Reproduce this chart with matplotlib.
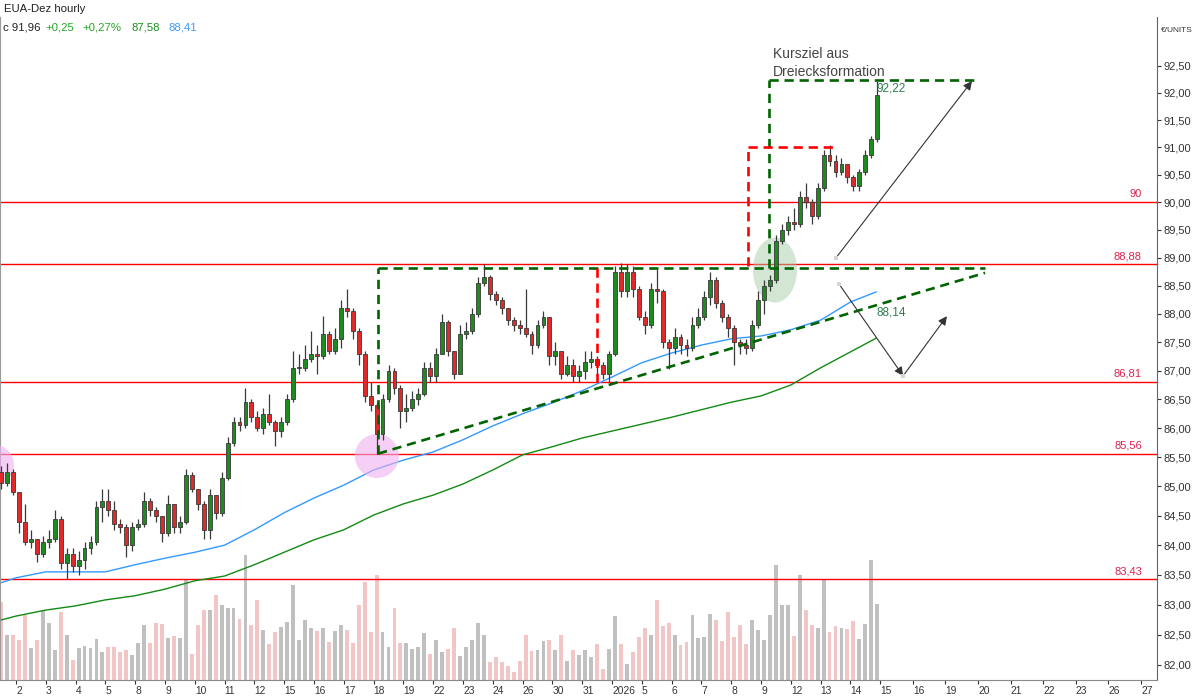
import matplotlib
matplotlib.use('Agg')
import matplotlib.pyplot as plt
import numpy as np
from matplotlib.patches import Ellipse
from matplotlib.ticker import FixedLocator, NullLocator

plt.rcParams['font.family'] = ['Liberation Sans', 'DejaVu Sans']

# ---------------- data ----------------
title = "EUA-Dez hourly"
first_open = 85.25
close = [
    85.05, 85.25, 84.9,
    84.4, 84.05, 84.1, 83.85, 84.05,
    84.1, 84.45, 83.7, 83.85, 83.65,
    83.75, 83.95, 84.05, 84.65, 84.75,
    84.6, 84.35, 84.3, 84.0, 84.3,
    84.35, 84.75, 84.6, 84.5, 84.2,
    84.7, 84.3, 84.4, 85.2, 84.95,
    84.7, 84.25, 84.85, 84.55, 85.15,
    85.75, 86.1, 86.05, 86.45, 86.2,
    86.0, 86.25, 86.1, 85.95, 86.1,
    86.5, 87.05, 87.05, 87.2, 87.3,
    87.25, 87.65, 87.35, 87.55, 88.1,
    88.05, 87.7, 87.3, 86.55, 86.4,
    85.9, 86.5, 87.0, 86.7, 86.3,
    86.35, 86.5, 86.6, 87.05, 86.9,
    87.3, 87.85, 87.35, 86.95, 87.65,
    87.7, 88.0, 88.55, 88.65, 88.35,
    88.25, 88.1, 87.9, 87.8, 87.75,
    87.65, 87.45, 87.8, 87.95, 87.25,
    87.35, 86.95, 87.1, 86.9, 87.0,
    87.15, 87.2, 87.1, 86.95, 87.3,
    88.75, 88.4, 88.75, 88.45, 87.95,
    87.8, 88.45, 88.4, 87.5, 87.4,
    87.6, 87.45, 87.4, 87.8, 87.95,
    88.3, 88.6, 88.2, 87.95, 87.75,
    87.5, 87.45, 87.4, 87.8, 88.25,
    88.5, 88.6, 89.3, 89.5, 89.65,
    89.6, 90.1, 90.0, 89.75, 90.25,
    90.85, 90.75, 90.55, 90.7, 90.45,
    90.3, 90.55, 90.85, 91.15, 91.96,
]
high = [
    85.35, 85.4, 85.3,
    84.9, 84.7, 84.25, 84.1, 84.15,
    84.25, 84.6, 84.5, 83.95, 83.95,
    83.9, 84.05, 84.15, 84.75, 84.95,
    84.95, 84.75, 84.45, 84.35, 84.4,
    84.45, 84.9, 84.8, 84.65, 84.5,
    84.85, 84.7, 84.5, 85.3, 85.25,
    84.95, 84.75, 84.95, 84.85, 85.25,
    85.85, 86.2, 86.2, 86.7, 86.5,
    86.3, 86.35, 86.6, 86.15, 86.2,
    86.6, 87.35, 87.3, 87.45, 87.7,
    87.45, 87.96, 87.7, 87.75, 88.25,
    88.45, 88.1, 87.75, 87.35, 86.8,
    86.45, 86.6, 87.1, 87.05, 86.75,
    86.6, 86.65, 86.7, 87.15, 87.15,
    87.4, 88.0, 87.9, 87.35, 87.8,
    87.85, 88.1, 88.65, 88.88, 88.7,
    88.4, 88.3, 88.1, 87.95, 87.9,
    88.45, 87.7, 87.9, 88.05, 87.95,
    87.5, 87.35, 87.25, 87.2, 87.1,
    87.35, 87.35, 87.25, 87.15, 87.35,
    88.85, 88.9, 88.88, 88.85, 88.5,
    88.05, 88.55, 88.8, 88.45, 87.55,
    87.75, 87.65, 87.55, 87.95, 88.1,
    88.4, 88.75, 88.65, 88.25, 88.0,
    87.8, 87.55, 87.55, 87.9, 88.4,
    88.6, 88.7, 89.4, 89.6, 89.75,
    89.9, 90.2, 90.35, 90.05, 90.35,
    90.95, 91.05, 90.85, 90.8, 90.7,
    90.5, 90.6, 90.95, 91.2, 92.22,
]
low = [
    84.95, 85.0, 84.85,
    84.2, 84.0, 83.95, 83.72, 83.8,
    83.95, 84.05, 83.6, 83.43, 83.55,
    83.5, 83.6, 83.85, 84.0, 84.4,
    84.5, 84.25, 84.2, 83.8, 83.9,
    84.25, 84.3, 84.5, 84.4, 84.05,
    84.15, 84.2, 84.2, 84.35, 84.9,
    84.6, 84.1, 84.1, 84.45, 84.5,
    85.1, 85.7, 85.95, 86.0, 86.1,
    85.95, 85.9, 86.05, 85.7, 85.85,
    86.05, 86.45, 86.95, 87.0, 87.15,
    86.95, 87.2, 87.3, 87.3, 87.4,
    87.95, 87.55, 87.1, 86.45, 86.3,
    85.56, 85.8, 86.45, 86.6, 86.0,
    86.1, 86.3, 86.4, 86.55, 86.8,
    86.8, 87.3, 87.25, 86.85, 86.95,
    87.55, 87.65, 87.95, 88.5, 88.25,
    88.15, 88.0, 87.8, 87.7, 87.65,
    87.6, 87.3, 87.4, 87.75, 87.1,
    87.1, 86.85, 86.9, 86.8, 86.8,
    86.85, 87.05, 86.9, 86.85, 86.81,
    87.25, 88.3, 88.3, 88.3, 87.9,
    87.65, 87.75, 88.2, 87.4, 87.03,
    87.3, 87.3, 87.25, 87.35, 87.75,
    87.9, 88.15, 88.1, 87.85, 87.6,
    87.1, 87.3, 87.3, 87.35, 87.75,
    88.0, 88.4, 88.55, 89.25, 89.4,
    89.5, 89.55, 89.9, 89.6, 89.7,
    90.2, 90.65, 90.45, 90.5, 90.35,
    90.2, 90.2, 90.5, 90.8, 91.1,
]
volume = [
    78, 45, 45,
    40, 65, 32, 40, 70,
    57, 30, 68, 45, 20,
    32, 34, 32, 41, 28,
    33, 33, 28, 30, 25,
    37, 55, 37, 57, 56,
    42, 44, 42, 100, 26,
    55, 70, 70, 85, 75,
    72, 72, 61, 125, 55,
    80, 50, 36, 48, 53,
    58, 95, 40, 60, 52,
    49, 52, 38, 49, 55,
    50, 37, 75, 98, 48,
    105, 48, 33, 72, 37,
    37, 31, 33, 47, 26,
    40, 28, 31, 52, 24,
    33, 40, 57, 45, 18,
    23, 18, 14, 8, 19,
    45, 29, 30, 39, 40,
    30, 45, 19, 30, 25,
    30, 23, 36, 11, 31,
    64, 36, 16, 28, 43,
    52, 45, 80, 54, 57,
    45, 35, 38, 65, 42,
    43, 66, 60, 39, 68,
    43, 55, 36, 60, 50,
    40, 65, 115, 75, 75,
    44, 105, 70, 55, 52,
    100, 48, 54, 52, 51,
    59, 41, 56, 120, 76,
]
# moving averages sampled at day starts (plus chart edges)
ma_days = [-0.54] + list(range(29)) + [28.86]
ma_blue = [83.36, 83.45, 83.55, 83.55, 83.55, 83.67, 83.78, 83.88, 84.00, 84.26,
           84.55, 84.80, 85.02, 85.28, 85.45, 85.59, 85.80, 86.04, 86.25, 86.44,
           86.65, 86.89, 87.14, 87.31, 87.45, 87.56, 87.61, 87.72, 87.89, 88.21, 88.39]
ma_green = [82.74, 82.81, 82.91, 82.98, 83.08, 83.15, 83.26, 83.40, 83.48, 83.67,
            83.88, 84.09, 84.26, 84.51, 84.70, 84.85, 85.04, 85.28, 85.54, 85.68,
            85.83, 85.95, 86.07, 86.19, 86.32, 86.45, 86.56, 86.75, 87.05, 87.33, 87.57]

levels = [90.0, 88.88, 86.81, 85.56, 83.43]
level_labels = ["90", "88,88", "86,81", "85,56", "83,43"]

day_labels = ['2', '3', '4', '5', '8', '9', '10', '11', '12', '15', '16', '17', '18', '19',
              '22', '23', '24', '26', '30', '31', '2026', '5', '6', '7', '8', '9', '12', '13', '14']
future_labels = ['15', '16', '19', '20', '21', '22', '23', '26', '27']
price_ticks = [82.0 + 0.5 * i for i in range(22)]

# ---------------- figure ----------------
W, H = 1200, 700
fig = plt.figure(figsize=(12, 7), dpi=100, facecolor='white')
ax = fig.add_axes([0.0, 20 / H, 1157 / W, 663 / H])
ax2 = ax.twinx()
ax.set_zorder(ax2.get_zorder() + 1)
ax.patch.set_visible(False)

x_left, x_right = -0.537, (1157 - 16) / 29.8
ax.set_xlim(x_left, x_right)
ax.set_yscale('log')
ax.set_ylim(81.752, 93.416)

n = len(close)
xs = -0.5 + 0.2 * np.arange(n)
opens = [first_open] + close[:-1]
up = [c >= o for o, c in zip(opens, close)]

# volume
ax2.set_ylim(0, 663)
vcol = ['#c0c0c0' if u else '#f2c6c6' for u in up]
ax2.bar(xs, volume, width=0.13, color=vcol, linewidth=0)
ax2.set_yticks([])
for s in ax2.spines.values():
    s.set_visible(False)

# level lines
for lv, lb in zip(levels, level_labels):
    ax.axhline(lv, color='#ff0000', lw=1.0, zorder=1.5)
    ax.text(0.987, lv * 1.0006, lb, transform=ax.get_yaxis_transform(), ha='right',
            va='bottom', fontsize=8, color='#e0204e', zorder=7)

# moving averages
ax.plot(ma_days, ma_blue, color='#3399ff', lw=1.0, zorder=2)
ax.plot(ma_days, ma_green, color='#138a13', lw=1.0, zorder=2)

# candles
hi = [max(h, o, c) for h, o, c in zip(high, opens, close)]
lo = [min(l, o, c) for l, o, c in zip(low, opens, close)]
ax.vlines(xs, lo, hi, color='#3a3a3a', lw=0.9, zorder=4)
bottoms = [min(o, c) for o, c in zip(opens, close)]
heights = [max(abs(c - o), 0.02) for o, c in zip(opens, close)]
bcol = ['#1f8a1f' if u else '#e02a2a' for u in up]
ax.bar(xs, heights, bottom=bottoms, width=0.13, color=bcol, edgecolor='#3a3a3a',
       linewidth=0.6, zorder=5)

# ---------------- annotations ----------------
dash = (0, (3.5, 2.2))
g_col, r_col = '#006400', '#ff0000'
# triangle
tri_x0, tri_x1 = 12.15, 32.52
ax.plot([tri_x0, tri_x0], [85.56, 88.82], color=g_col, lw=1.9, ls=dash, zorder=6)
ax.plot([tri_x0, tri_x1], [88.82, 88.82], color=g_col, lw=1.9, ls=dash, zorder=6)
ax.plot([tri_x0, tri_x1], [85.56, 88.73], color=g_col, lw=1.9, ls=dash, zorder=6)
# target box
ax.plot([25.27, 25.27], [88.82, 92.24], color=g_col, lw=1.9, ls=dash, zorder=6)
ax.plot([25.27, 32.25], [92.24, 92.24], color=g_col, lw=1.9, ls=dash, zorder=6)
# red measured moves
ax.plot([19.50, 19.50], [88.82, 86.81], color=r_col, lw=1.9, ls=dash, zorder=6)
ax.plot([24.56, 24.56], [88.86, 91.01], color=r_col, lw=1.9, ls=dash, zorder=6)
ax.plot([24.56, 27.42], [91.01, 91.01], color=r_col, lw=1.9, ls=dash, zorder=6)

# arrows
arrows = [((27.52, 89.0), (32.08, 92.22)),
          ((27.62, 88.53), (29.77, 86.91)),
          ((29.77, 86.91), (31.24, 87.96))]
for (sx, sy), (ex, ey) in arrows:
    ax.annotate('', xy=(ex, ey), xytext=(sx, sy),
                arrowprops=dict(arrowstyle='-|>', color='#333333', lw=0.8,
                                mutation_scale=13, shrinkA=0, shrinkB=0), zorder=7)
ax.plot([27.52, 27.62, 29.77], [89.0, 88.53, 86.91], 's', color='#d4d4d4', ms=3.5,
        zorder=8, markeredgewidth=0)

# ellipses in pixel sizes
bbox = ax.get_window_extent()
def px_ellipse(xd, pd, wpx, hpx, fc, alpha):
    disp = ax.transData.transform((xd, pd))
    cx, cy = ax.transAxes.inverted().transform(disp)
    e = Ellipse((cx, cy), wpx / bbox.width, hpx / bbox.height, transform=ax.transAxes,
                facecolor=fc, edgecolor='none', alpha=alpha, zorder=3.5)
    ax.add_patch(e)

px_ellipse(12.11, 85.52, 44, 44, '#f0b0f0', 0.6)
px_ellipse(-0.74, 85.37, 40, 40, '#f0b0f0', 0.6)
px_ellipse(25.47, 88.78, 44, 65, '#a8cca8', 0.5)

ax.text(25.40, 92.85, "Kursziel aus\nDreiecksformation", ha='left', va='top',
        fontsize=10, color='#444444', linespacing=1.3, zorder=8)
ax.text(28.86, 92.09, "92,22", ha='left', va='center', fontsize=8.5, color='#2e7d4f', zorder=8)
ax.text(28.86, 88.02, "88,14", ha='left', va='center', fontsize=8.5, color='#2e7d4f', zorder=8)

# ---------------- axes styling ----------------
ax.yaxis.tick_right()
ax.yaxis.set_major_locator(FixedLocator(price_ticks))
ax.yaxis.set_minor_locator(NullLocator())
ax.set_yticklabels([f"{t:.2f}".replace('.', ',') for t in price_ticks])
ax.tick_params(axis='y', which='both', direction='out', length=3, pad=2,
               labelsize=8, colors='#333333')
ax.tick_params(axis='y', which='minor', length=0)

xt = list(range(29)) + [29 + 1.094 * j for j in range(9)]
ax.set_xticks(xt)
ax.set_xticklabels(day_labels + future_labels)
for t in ax.get_xticklabels():
    t.set_ha('left')
ax.tick_params(axis='x', direction='out', length=3, pad=1.5, labelsize=7.4,
               colors='#333333')

ax.spines['top'].set_visible(False)
ax.spines['left'].set_color('#9a9a9a')
ax.spines['bottom'].set_color('#8a8a8a')
ax.spines['right'].set_color('#666666')

# header
def ftext(x, y, s, **kw):
    fig.text(x / W, 1 - y / H, s, va='center', ha='left', **kw)

ftext(4, 9, title, fontsize=8.2, color='#222222')
ftext(3, 27, "c 91,96", fontsize=8.2, color='#222222')
ftext(45, 27, "+0,25", fontsize=8.2, color='#23a823')
ftext(82, 27, "+0,27%", fontsize=8.2, color='#23a823')
ftext(132, 27, "87,58", fontsize=8.2, color='#1a8c1a')
ftext(168, 27, "88,41", fontsize=8.2, color='#3d9bff')
ftext(1161, 30, "€/UNITS", fontsize=6, color='#333333')

fig.savefig('out.png', dpi=100, facecolor='white')
